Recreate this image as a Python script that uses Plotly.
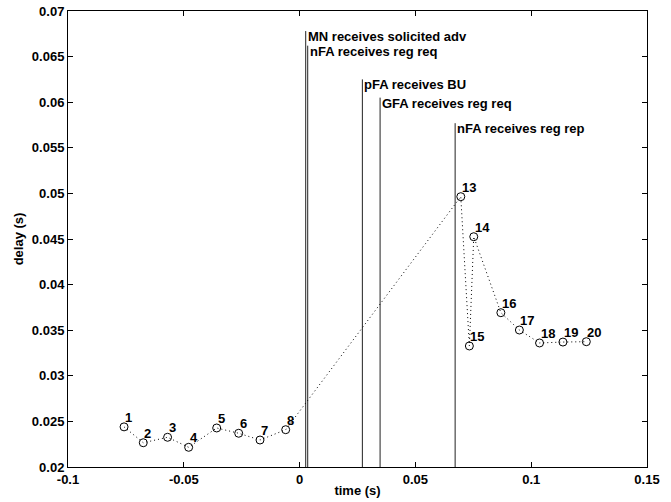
import plotly.graph_objects as go

# packet samples
pkt_ids = [1, 2, 3, 4, 5, 6, 7, 8, 13, 14, 15, 16, 17, 18, 19, 20]
pkt_time = [-0.0758, -0.0675, -0.0570, -0.0479, -0.0358, -0.0263, -0.0171, -0.0060,
            0.0696, 0.0752, 0.0733, 0.0869, 0.0949, 0.1036, 0.1137, 0.1238]
pkt_delay = [0.0244, 0.02266, 0.02326, 0.02216, 0.02428, 0.0237, 0.02296, 0.02409,
             0.04964, 0.04525, 0.03327, 0.03692, 0.03502, 0.0336, 0.0337, 0.03374]

# events
event_names = ["MN receives solicited adv", "nFA receives reg req", "pFA receives BU",
               "GFA receives reg req", "nFA receives reg rep"]
event_time = [0.00264, 0.00350, 0.02710, 0.03475, 0.06716]
event_top = [0.0678, 0.0662, 0.0625, 0.0605, 0.0577]

x_ticks = [-0.1, -0.05, 0, 0.05, 0.1, 0.15]
x_ticklabels = ["-0.1", "-0.05", "0", "0.05", "0.1", "0.15"]
y_ticks = [0.02, 0.025, 0.03, 0.035, 0.04, 0.045, 0.05, 0.055, 0.06, 0.065, 0.07]
y_ticklabels = ["0.02", "0.025", "0.03", "0.035", "0.04", "0.045", "0.05", "0.055", "0.06", "0.065", "0.07"]

FONT = "Liberation Sans, Arial, sans-serif"
FS = 13

fig = go.Figure()

# event lines
for t, top in zip(event_time, event_top):
    fig.add_trace(go.Scatter(x=[t, t], y=[0.02, top], mode="lines",
                             line=dict(color="#222222", width=1),
                             showlegend=False, hoverinfo="skip"))

# dotted line in time order
order = sorted(range(len(pkt_time)), key=lambda i: pkt_time[i])
fig.add_trace(go.Scatter(x=[pkt_time[i] for i in order], y=[pkt_delay[i] for i in order],
                         mode="lines", line=dict(color="black", width=1, dash="1px,3px"),
                         showlegend=False, hoverinfo="skip"))
fig.add_trace(go.Scatter(x=pkt_time, y=pkt_delay, mode="markers",
                         marker=dict(symbol="circle-open", size=8, color="black",
                                     line=dict(width=1, color="black")),
                         showlegend=False))

annotations = []
for pid, t, d in zip(pkt_ids, pkt_time, pkt_delay):
    annotations.append(dict(x=t, y=d, text="<b>%d</b>" % pid, showarrow=False,
                            xanchor="left", yanchor="bottom", xshift=0, yshift=1,
                            borderpad=0,
                            font=dict(family=FONT, size=FS, color="black")))
for name, t, top in zip(event_names, event_time, event_top):
    annotations.append(dict(x=t, y=top, text="<b>%s</b>" % name, showarrow=False,
                            xanchor="left", yanchor="top", xshift=1, yshift=3,
                            borderpad=0,
                            font=dict(family=FONT, size=FS, color="black")))

axis_common = dict(showgrid=False, zeroline=False, showline=True, linecolor="black",
                   linewidth=1, mirror="allticks", ticks="inside", ticklen=5,
                   tickcolor="black", tickwidth=1, automargin=False,
                   tickfont=dict(family=FONT, size=FS, color="black"))

fig.update_layout(
    width=671, height=502,
    margin=dict(l=68, r=24, t=11, b=35),
    paper_bgcolor="white", plot_bgcolor="white",
    annotations=annotations,
    xaxis=dict(range=[-0.1, 0.15], tickvals=x_ticks,
               ticktext=["<b>%s</b>" % s for s in x_ticklabels],
               title=dict(text="<b>time (s)</b>", standoff=0,
                          font=dict(family=FONT, size=FS, color="black")),
               **axis_common),
    yaxis=dict(range=[0.02, 0.07], tickvals=y_ticks,
               ticktext=["<b>%s</b>" % s for s in y_ticklabels],
               title=dict(text="<b>delay (s)</b>", standoff=5,
                          font=dict(family=FONT, size=FS, color="black")),
               **axis_common),
)

fig.write_html("out.html")
